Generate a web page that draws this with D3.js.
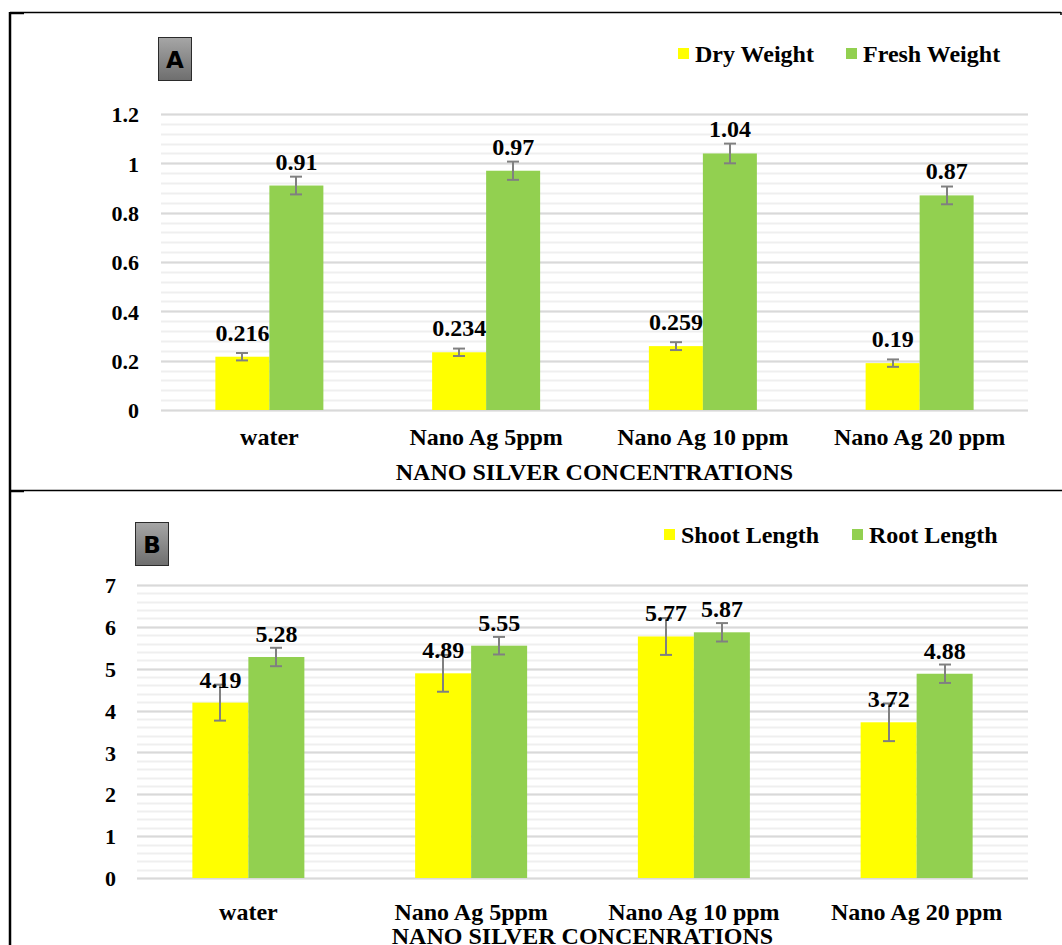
<!DOCTYPE html>
<html><head><meta charset="utf-8">
<script src="https://cdn.jsdelivr.net/npm/d3@7"></script>
<style>body{margin:0;background:#fff}svg{display:block}</style>
</head><body>
<svg id="c" width="1062" height="945"></svg>
<script>
const categories = ["water", "Nano Ag 5ppm", "Nano Ag 10 ppm", "Nano Ag 20 ppm"];
// Panel A
const seriesA = ["Dry Weight", "Fresh Weight"];
const dryWeight = [0.216, 0.234, 0.259, 0.19];
const dryWeightErr = [0.015, 0.015, 0.016, 0.015];
const freshWeight = [0.91, 0.97, 1.04, 0.87];
const freshWeightErr = [0.036, 0.037, 0.04, 0.036];
const ticksA = [0, 0.2, 0.4, 0.6, 0.8, 1, 1.2];
const titleA = "NANO SILVER CONCENTRATIONS";
// Panel B
const seriesB = ["Shoot Length", "Root Length"];
const shootLength = [4.19, 4.89, 5.77, 3.72];
const shootLengthErr = [0.43, 0.44, 0.44, 0.45];
const rootLength = [5.28, 5.55, 5.87, 4.88];
const rootLengthErr = [0.22, 0.21, 0.22, 0.22];
const ticksB = [0, 1, 2, 3, 4, 5, 6, 7];
const titleB = "NANO SILVER CONCENRATIONS";

const colors = ["#ffff00", "#92d050"];
const svg = d3.select("#c");
const serif = "'Liberation Serif','Times New Roman',serif";

// frame lines
svg.append("line").attr("x1",10).attr("x2",1061).attr("y1",12.5).attr("y2",12.5).attr("stroke","#000").attr("stroke-width",1.5);
svg.append("line").attr("x1",1061).attr("x2",1061).attr("y1",12).attr("y2",15).attr("stroke","#000").attr("stroke-width",1.5);
svg.append("line").attr("x1",10).attr("x2",1062).attr("y1",490.5).attr("y2",490.5).attr("stroke","#000").attr("stroke-width",1.5);
svg.append("line").attr("x1",10).attr("x2",24).attr("y1",491.5).attr("y2",491.5).attr("stroke","#000").attr("stroke-width",1.5);
svg.append("line").attr("x1",10).attr("x2",24).attr("y1",13.5).attr("y2",13.5).attr("stroke","#000").attr("stroke-width",1.5);
svg.append("line").attr("x1",10).attr("x2",10).attr("y1",12).attr("y2",945).attr("stroke","#000").attr("stroke-width",2.5);

const defs = svg.append("defs");
const grad = defs.append("linearGradient").attr("id","boxg").attr("x1",0).attr("x2",0).attr("y1",0).attr("y2",1);
grad.append("stop").attr("offset","0%").attr("stop-color","#a6a6a6");
grad.append("stop").attr("offset","100%").attr("stop-color","#6e6e6e");

function panel(cfg) {
  const g = svg.append("g");
  const x = d3.scaleBand().domain(categories).range([cfg.x0, cfg.x1]);
  const y = d3.scaleLinear().domain([0, cfg.max]).range([cfg.y0, cfg.yTop]);
  // minor gridlines
  const minor = d3.range(0, cfg.max + cfg.minor/2, cfg.minor);
  g.selectAll(".mn").data(minor).join("line")
    .attr("x1", cfg.x0).attr("x2", cfg.x1)
    .attr("y1", d => Math.round(y(d)) + 0.5).attr("y2", d => Math.round(y(d)) + 0.5)
    .attr("stroke", "#efefef").attr("stroke-width", 2);
  g.selectAll(".mj").data(cfg.ticks).join("line")
    .attr("x1", cfg.x0).attr("x2", cfg.x1)
    .attr("y1", d => Math.round(y(d)) + 0.5).attr("y2", d => Math.round(y(d)) + 0.5)
    .attr("stroke", "#d9d9d9").attr("stroke-width", 2);
  // y axis labels
  const ya = d3.axisLeft(y).tickValues(cfg.ticks).tickSize(0).tickPadding(0).tickFormat(d => String(d));
  const yg = g.append("g").attr("transform", `translate(${cfg.tickX},0)`).call(ya);
  yg.select(".domain").remove();
  yg.selectAll("text").attr("font-family", serif).attr("font-weight", "bold").attr("font-size", 22).attr("fill", "#000").attr("dy", "0.35em");
  // x axis labels
  const xa = d3.axisBottom(x).tickSize(0).tickPadding(0);
  const xg = g.append("g").attr("transform", `translate(0,${cfg.catY})`).call(xa);
  xg.select(".domain").remove();
  xg.selectAll("text").attr("font-family", serif).attr("font-weight", "bold").attr("font-size", 24).attr("fill", "#000").attr("dy", 0);
  // bars
  const bw = cfg.barW;
  cfg.series.forEach((s, i) => {
    const vals = cfg.values[i];
    const bx = c => x(c) + x.bandwidth()/2 + (i === 0 ? -bw : 0);
    g.selectAll(".b" + i).data(categories).join("rect")
      .attr("x", c => bx(c)).attr("width", bw)
      .attr("y", (c, j) => y(vals[j])).attr("height", (c, j) => y(0) - y(vals[j]))
      .attr("fill", colors[i]);
  });
  // error bars
  cfg.series.forEach((s, i) => {
    const vals = cfg.values[i], errs = cfg.errs[i];
    const cx = c => x(c) + x.bandwidth()/2 + (i === 0 ? -bw/2 : bw/2);
    const eg = g.append("g").attr("stroke", "#808080").attr("stroke-width", 2).attr("fill", "none");
    categories.forEach((c, j) => {
      const xx = Math.round(cx(c));
      eg.append("line").attr("x1", xx).attr("x2", xx).attr("y1", y(vals[j] + errs[j])).attr("y2", y(vals[j] - errs[j]));
      eg.append("line").attr("x1", xx - 6).attr("x2", xx + 6).attr("y1", y(vals[j] + errs[j])).attr("y2", y(vals[j] + errs[j]));
      eg.append("line").attr("x1", xx - 6).attr("x2", xx + 6).attr("y1", y(vals[j] - errs[j])).attr("y2", y(vals[j] - errs[j]));
    });
  });
  // value labels
  cfg.series.forEach((s, i) => {
    const vals = cfg.values[i];
    const cx = c => x(c) + x.bandwidth()/2 + (i === 0 ? -bw/2 : bw/2);
    g.selectAll(".v" + i).data(categories).join("text")
      .attr("x", c => cx(c)).attr("y", (c, j) => y(vals[j]) - cfg.labOff)
      .attr("text-anchor", "middle").attr("font-family", serif).attr("font-weight", "bold")
      .attr("font-size", 24).attr("fill", "#000").text((c, j) => String(vals[j]));
  });
  // axis title
  g.append("text").attr("x", (cfg.x0 + cfg.x1)/2).attr("y", cfg.titleY).attr("text-anchor", "middle")
    .attr("font-family", serif).attr("font-weight", "bold").attr("font-size", 24).attr("fill", "#000").text(cfg.title);
  // legend
  cfg.series.forEach((s, i) => {
    g.append("rect").attr("x", cfg.legX[i]).attr("y", cfg.legY - 14).attr("width", 11).attr("height", 11).attr("fill", colors[i]);
    g.append("text").attr("x", cfg.legX[i] + 17).attr("y", cfg.legY).attr("font-family", serif).attr("font-weight", "bold")
      .attr("font-size", 24).attr("fill", "#000").text(s);
  });
  // letter box
  g.append("rect").attr("x", cfg.box[0] + 0.5).attr("y", cfg.box[1] + 0.5).attr("width", 33).attr("height", 43)
    .attr("fill", "url(#boxg)").attr("stroke", "#2b2b2b").attr("stroke-width", 1);
  g.append("text").attr("x", cfg.box[0] + 17).attr("y", cfg.box[1] + 31).attr("text-anchor", "middle")
    .attr("font-family", "'DejaVu Sans',sans-serif").attr("font-weight", "bold").attr("font-size", 23).attr("fill", "#000").text(cfg.letter);
}

panel({x0:161, x1:1028, y0:410, yTop:114, max:1.2, minor:0.04, ticks:ticksA, tickX:139, catY:445,
  barW:54, series:seriesA, values:[dryWeight, freshWeight], errs:[dryWeightErr, freshWeightErr], labOff:16,
  title:titleA, titleY:480, legX:[678, 846], legY:62, box:[158, 37], letter:"A"});
panel({x0:137, x1:1028, y0:878, yTop:585, max:7, minor:0.2, ticks:ticksB, tickX:116, catY:920,
  barW:56, series:seriesB, values:[shootLength, rootLength], errs:[shootLengthErr, rootLengthErr], labOff:15,
  title:titleB, titleY:944, legX:[664, 852], legY:543, box:[135, 522], letter:"B"});
</script>
</body></html>
